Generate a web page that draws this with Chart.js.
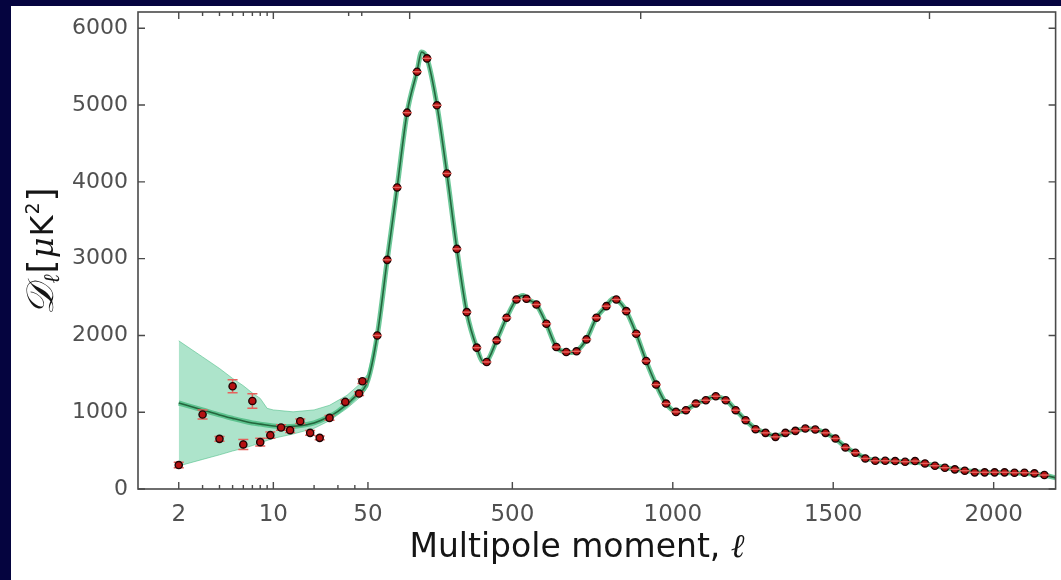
<!DOCTYPE html>
<html>
<head>
<meta charset="utf-8">
<script src="https://cdn.jsdelivr.net/npm/chart.js@4.4.1/dist/chart.umd.min.js"></script>
<style>
  html, body { margin: 0; padding: 0; background: #05043f; }
  body { width: 1061px; height: 580px; overflow: hidden; position: relative; }
  #wrap { position: absolute; left: 11px; top: 6px; width: 1050px; height: 574px; background: #fff; }
</style>
</head>
<body>
<div id="wrap"><canvas id="myChart" width="1050" height="574"></canvas></div>
<script>
// low multipoles, one point per l
var lowEll = [2, 3, 4, 5, 6, 7, 8, 9.5, 11.4, 13.3, 15.8, 18.7, 22, 26, 34, 43, 45.5];
var lowDl  = [312, 970, 653, 1338, 580, 1147, 610, 701, 801, 766, 883, 731, 666, 926, 1134, 1243, 1403];
var lowErr = [35, 60, 30, 85, 65, 95, 50, 40, 35, 30, 30, 30, 25, 30, 25, 25, 30];

// binned points (bin width 31)
var binEll = [79, 110, 141, 172, 203, 234, 265, 296, 327, 358, 389, 420, 451, 482, 513, 544, 575, 606, 637, 668,
              700, 731, 762, 793, 824, 855, 886, 917, 948, 979, 1010, 1041, 1072, 1103, 1134, 1165, 1196, 1227, 1258, 1289,
              1320, 1351, 1382, 1413, 1444, 1476, 1507, 1538, 1569, 1600, 1631, 1662, 1693, 1724, 1755, 1786, 1817, 1848, 1879, 1910,
              1941, 1972, 2003, 2034, 2065, 2096, 2127, 2158];
var binDl  = [2000, 2984, 3927, 4901, 5434, 5608, 4997, 4109, 3127, 2303, 1841, 1654, 1935, 2230, 2468, 2477, 2403, 2152, 1849, 1784,
              1793, 1948, 2230, 2381, 2468, 2316, 2022, 1667, 1360, 1113, 1004, 1026, 1113, 1156, 1208, 1156, 1026, 896, 779, 731,
              679, 731, 757, 788, 775, 731, 658, 541, 472, 398, 368, 368, 364, 355, 364, 333, 303, 277, 256, 238,
              217, 217, 217, 217, 212, 212, 204, 182];
var binHalfWidth = 15;

// best fit model
var modelEll = [2, 3, 4, 5, 6, 7, 8, 10, 12, 15, 20, 25, 30, 40, 50, 79, 110, 141, 172, 203, 217, 234, 265, 296, 327, 358, 389, 410, 420,
                451, 482, 513, 535, 544, 575, 606, 637, 668, 685, 700, 731, 762, 793, 815, 824, 855, 886, 917, 948, 979, 1010, 1030,
                1041, 1072, 1103, 1130, 1165, 1196, 1227, 1258, 1289, 1320, 1351, 1382, 1420, 1444, 1476, 1507, 1538, 1569, 1600,
                1631, 1662, 1693, 1724, 1755, 1786, 1817, 1848, 1879, 1910, 1941, 1972, 2003, 2034, 2065, 2096, 2127, 2158, 2193];
var modelDl  = [1120, 1030, 965, 920, 885, 860, 845, 820, 810, 820, 860, 930, 1010, 1200, 1420, 2000, 2980, 3930, 4900, 5440, 5690, 5610, 5000, 4110, 3130, 2300, 1840, 1655, 1665,
                1935, 2230, 2470, 2520, 2480, 2400, 2150, 1850, 1785, 1778, 1795, 1950, 2230, 2385, 2480, 2470, 2316, 2022, 1667, 1360, 1113, 1010, 1008,
                1030, 1110, 1160, 1205, 1160, 1030, 896, 785, 730, 690, 722, 760, 785, 775, 730, 655, 548, 470, 405,
                372, 365, 360, 356, 350, 330, 305, 280, 258, 240, 225, 218, 215, 212, 208, 203, 195, 182, 145];

// cosmic variance band at low l
var bandEll = [2, 3, 4, 5, 6, 7, 8, 9, 10, 14, 20, 26, 35, 44, 50, 79];
var bandHi  = [1930, 1720, 1570, 1440, 1345, 1250, 1180, 1050, 1030, 1005, 1030, 1090, 1220, 1375, 1500, 2030];
var bandLo  = [300, 385, 445, 495, 530, 565, 603, 632, 660, 716, 790, 890, 1050, 1200, 1330, 1970];

var xTickEll = [2, 10, 50, 500, 1000, 1500, 2000];
var xTickLabels = ['2', '10', '50', '500', '1000', '1500', '2000'];
var xMinorEll = [3, 4, 5, 6, 7, 8, 9, 20, 30, 40];
var topMajorEll = [2, 10, 180, 900, 1800];
var topMinorEll = [3, 4, 5, 6, 7, 8, 9, 36, 45];
var yTicks = [0, 1000, 2000, 3000, 4000, 5000, 6000];

var X_MIN = 1.0, X_MAX = 2193, Y_MAX = 6212;

// log axis below l=50, linear above it
function toAxis(ell) {
  return ell >= 50 ? ell : 50 - Math.log10(50 / ell) * 421.8;
}
function pts(xs, ys) {
  return xs.map(function (l, i) { return { x: toAxis(l), y: ys[i] }; });
}

var errorBars = {
  id: 'errorBars',
  beforeDatasetDraw: function (chart, args) {
    if (args.index !== 0) return;
    var ctx = chart.ctx, xs = chart.scales.x, ys = chart.scales.y;
    ctx.save();
    ctx.strokeStyle = '#e5625c';
    ctx.lineWidth = 1.5;
    lowEll.forEach(function (l, i) {
      var px = xs.getPixelForValue(toAxis(l));
      var y1 = ys.getPixelForValue(lowDl[i] - lowErr[i]);
      var y2 = ys.getPixelForValue(lowDl[i] + lowErr[i]);
      ctx.beginPath();
      ctx.moveTo(px, y1); ctx.lineTo(px, y2);
      ctx.moveTo(px - 5, y1); ctx.lineTo(px + 5, y1);
      ctx.moveTo(px - 5, y2); ctx.lineTo(px + 5, y2);
      ctx.stroke();
    });
    binEll.forEach(function (l, i) {
      var x1 = xs.getPixelForValue(toAxis(l - binHalfWidth));
      var x2 = xs.getPixelForValue(toAxis(l + binHalfWidth));
      var py = ys.getPixelForValue(binDl[i]);
      ctx.beginPath();
      ctx.moveTo(x1, py); ctx.lineTo(x2, py);
      ctx.stroke();
    });
    ctx.restore();
  }
};

var frameTicks = {
  id: 'frameTicks',
  afterDraw: function (chart) {
    var a = chart.chartArea, xs = chart.scales.x, ys = chart.scales.y, ctx = chart.ctx;
    ctx.save();
    ctx.strokeStyle = '#4a4a4a';
    ctx.lineWidth = 1.6;
    ctx.strokeRect(a.left, a.top, a.right - a.left, a.bottom - a.top);
    ctx.lineWidth = 1.4;
    ctx.beginPath();
    function vt(ell, y0, len) {
      var px = xs.getPixelForValue(toAxis(ell));
      ctx.moveTo(px, y0); ctx.lineTo(px, y0 + len);
    }
    xTickEll.forEach(function (l) { vt(l, a.bottom, -7); });
    xMinorEll.forEach(function (l) { vt(l, a.bottom, -4); });
    topMajorEll.forEach(function (l) { vt(l, a.top, 7); });
    topMinorEll.forEach(function (l) { vt(l, a.top, 4); });
    yTicks.forEach(function (v) {
      var py = ys.getPixelForValue(v);
      ctx.moveTo(a.left, py); ctx.lineTo(a.left + 7, py);
      ctx.moveTo(a.right, py); ctx.lineTo(a.right - 7, py);
    });
    ctx.stroke();

    ctx.fillStyle = '#151515';
    ctx.textBaseline = 'alphabetic';

    // x axis title
    var xParts = [
      { t: 'Multipole moment, ', f: '33px "DejaVu Sans"', dy: 0 },
      { t: 'ℓ', f: 'italic 33px "DejaVu Serif"', dy: 0 }
    ];
    var xTotal = 0;
    xParts.forEach(function (p) { ctx.font = p.f; p.w = ctx.measureText(p.t).width; xTotal += p.w; });
    var tx = 566 - xTotal / 2;
    xParts.forEach(function (p) { ctx.font = p.f; ctx.fillText(p.t, tx, 551); tx += p.w; });

    // y axis title: D_l [muK^2]
    var parts = [
      { t: '𝒟', f: 'italic 38px "DejaVu Serif"', dy: 0 },
      { t: 'ℓ', f: 'italic 22px "DejaVu Serif"', dy: 6 },
      { t: '[', f: '36px "DejaVu Sans"', dy: 0 },
      { t: 'μ', f: 'italic 32px "DejaVu Serif"', dy: 0 },
      { t: 'K', f: '32px "DejaVu Sans"', dy: 0 },
      { t: '2', f: '19px "DejaVu Sans"', dy: -14 },
      { t: ']', f: '36px "DejaVu Sans"', dy: 0 }
    ];
    var total = 0;
    parts.forEach(function (p) { ctx.font = p.f; p.w = ctx.measureText(p.t).width + 1; total += p.w; });
    ctx.translate(42, (a.top + a.bottom) / 2);
    ctx.rotate(-Math.PI / 2);
    var cx = -total / 2;
    parts.forEach(function (p) { ctx.font = p.f; ctx.fillText(p.t, cx, p.dy); cx += p.w; });
    ctx.restore();
  }
};

var pointStyle = {
  pointRadius: 3.6,
  pointBackgroundColor: '#b51212',
  pointBorderColor: '#1e0404',
  pointBorderWidth: 1.4,
  order: 0
};

var ctx = document.getElementById('myChart');
var myChart = new Chart(ctx, {
  type: 'scatter',
  data: {
    datasets: [
      Object.assign({ label: 'low l', data: pts(lowEll, lowDl) }, pointStyle),
      Object.assign({ label: 'binned', data: pts(binEll, binDl) }, pointStyle),
      {
        label: 'model',
        data: pts(modelEll, modelDl),
        showLine: true,
        pointRadius: 0,
        borderColor: '#24663d',
        borderWidth: 1.6,
        cubicInterpolationMode: 'monotone',
        order: 1
      },
      {
        label: 'model halo',
        data: pts(modelEll, modelDl),
        showLine: true,
        pointRadius: 0,
        borderColor: 'rgba(72,186,128,0.8)',
        borderWidth: 5,
        cubicInterpolationMode: 'monotone',
        order: 2
      },
      {
        label: 'band hi',
        data: pts(bandEll, bandHi),
        showLine: true,
        pointRadius: 0,
        borderColor: 'rgba(70,185,130,0.55)',
        borderWidth: 1,
        tension: 0,
        order: 3
      },
      {
        label: 'band lo',
        data: pts(bandEll, bandLo),
        showLine: true,
        pointRadius: 0,
        borderColor: 'rgba(70,185,130,0.55)',
        borderWidth: 1,
        tension: 0,
        fill: '-1',
        backgroundColor: 'rgba(60,190,130,0.42)',
        order: 3
      }
    ]
  },
  options: {
    responsive: false,
    animation: false,
    layout: { padding: { top: 6, right: 2, left: 0, bottom: 0 } },
    plugins: {
      legend: { display: false },
      tooltip: { enabled: false }
    },
    scales: {
      x: {
        type: 'linear',
        min: toAxis(X_MIN),
        max: X_MAX,
        grid: { display: false, drawTicks: false },
        border: { display: false },
        afterBuildTicks: function (scale) {
          scale.ticks = xTickEll.map(function (l) { return { value: toAxis(l) }; });
        },
        afterFit: function (scale) {
          scale.height = 91;
          scale.paddingLeft = 0; scale.paddingRight = 0;
        },
        ticks: {
          autoSkip: false,
          maxRotation: 0,
          padding: 12,
          color: '#505050',
          font: { family: 'DejaVu Sans', size: 23 },
          callback: function (v, i) { return xTickLabels[i]; }
        }
      },
      y: {
        min: 0,
        max: Y_MAX,
        grid: { display: false, drawTicks: false },
        border: { display: false },
        afterBuildTicks: function (scale) {
          scale.ticks = yTicks.map(function (v) { return { value: v }; });
        },
        afterFit: function (scale) {
          scale.width = 127;
          scale.paddingTop = 0; scale.paddingBottom = 0;
        },
        ticks: {
          padding: 10,
          color: '#505050',
          font: { family: 'DejaVu Sans', size: 22 },
          callback: function (v) { return String(v); }
        }
      }
    }
  },
  plugins: [errorBars, frameTicks]
});
</script>
</body>
</html>
